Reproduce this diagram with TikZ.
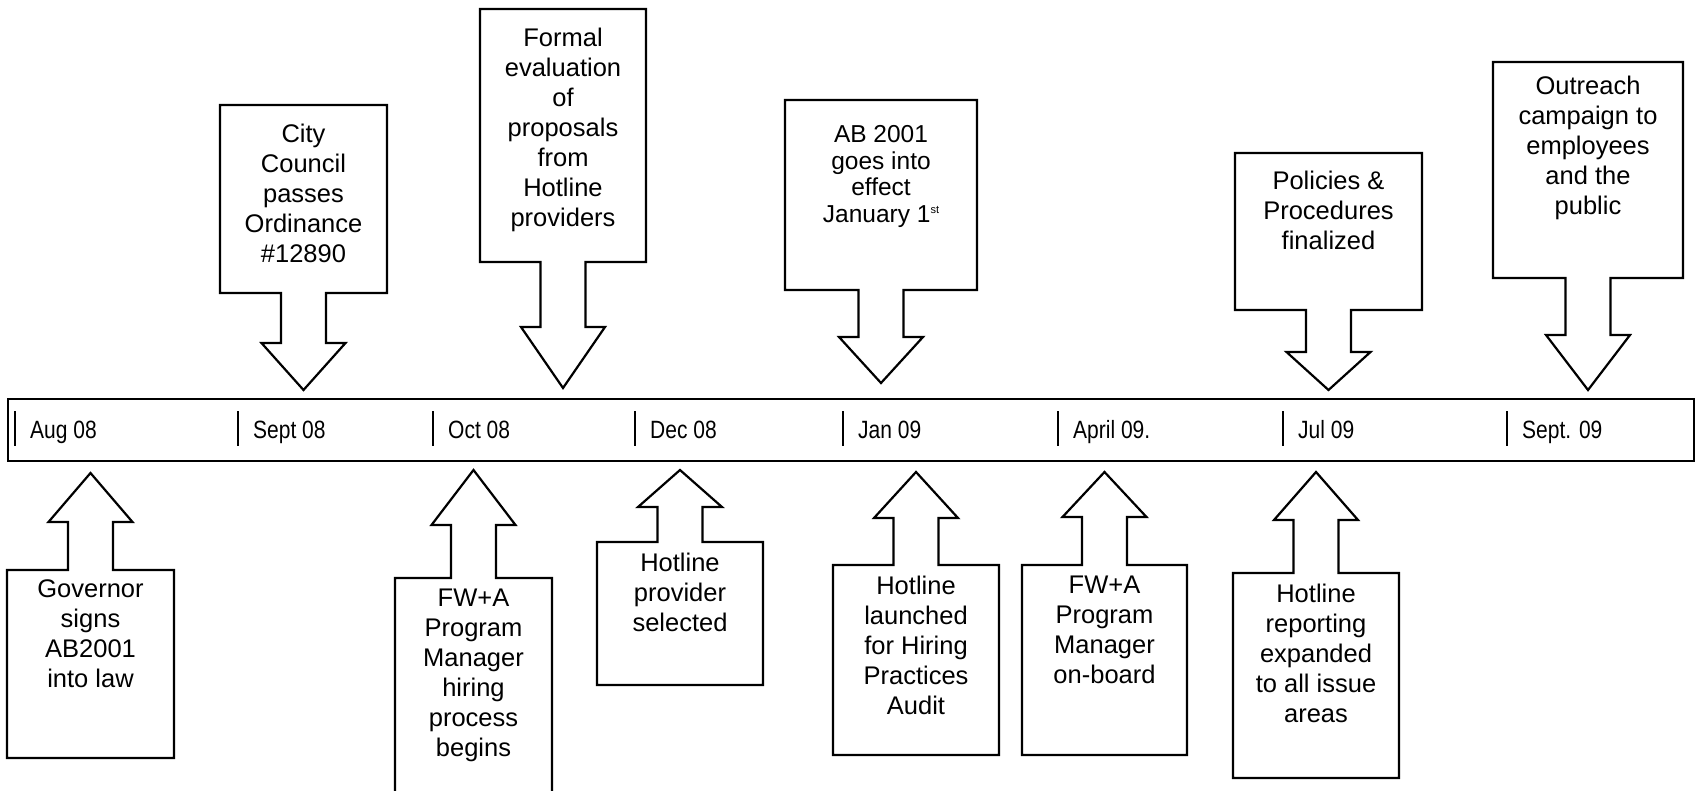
\documentclass[tikz,border=0pt]{standalone}
\usepackage{fontspec}
\setmainfont{Liberation Sans}
\newfontfamily\narrowf[FakeStretch=0.84]{Liberation Sans}
\newcommand{\calldown}[9]{%
  \pgfmathsetmacro\cxv{(#2+#3)/2}%
  \pgfmathsetmacro\sxl{\cxv-22.5}\pgfmathsetmacro\sxr{\cxv+22.5}%
  \pgfmathsetmacro\hxl{\cxv-42}\pgfmathsetmacro\hxr{\cxv+42}%
  \draw[callout] (#2,#4) -- (#3,#4) -- (#3,#5) -- (\sxr,#5) -- (\sxr,#6) -- (\hxr,#6)
     -- (\cxv,#7) -- (\hxl,#6) -- (\sxl,#6) -- (\sxl,#5) -- (#2,#5) -- cycle;
  \node[evt] (#1) at (\cxv,#8-9.5) {#9};
}
\newcommand{\callup}[9]{%
  \pgfmathsetmacro\cxv{(#2+#3)/2}%
  \pgfmathsetmacro\sxl{\cxv-22.5}\pgfmathsetmacro\sxr{\cxv+22.5}%
  \pgfmathsetmacro\hxl{\cxv-42}\pgfmathsetmacro\hxr{\cxv+42}%
  \draw[callout] (#2,#5) -- (#2,#4) -- (\sxl,#4) -- (\sxl,#6) -- (\hxl,#6) -- (\cxv,#7)
     -- (\hxr,#6) -- (\sxr,#6) -- (\sxr,#4) -- (#3,#4) -- (#3,#5) -- cycle;
  \node[evt] (#1) at (\cxv,#8-9.5) {#9};
}
\begin{document}
\begin{tikzpicture}[x=1pt,y=-1pt,
  callout/.style={draw=black, line width=2.2pt, fill=white, line join=miter},
  evt/.style={font=\fontsize{25.5}{30}\selectfont, align=center, inner sep=0pt, anchor=north},
  datelbl/.style={font=\narrowf\fontsize{25}{30}\selectfont, inner sep=0pt, anchor=base west},
  tickmark/.style={line width=2pt}]
\useasboundingbox[fill=white] (0,0) rectangle (1700,790);

% timeline bar
\node[draw, line width=2.4pt, minimum width=1686pt, minimum height=62pt, inner sep=0pt] (bar) at (851,430) {};
\foreach \t/\lab/\nm in {15/Aug 08/aug, 238/Sept 08/sep, 433/Oct 08/oct, 635/Dec 08/dec,
    843/Jan 09/jan, 1058/April 09./apr, 1283/Jul 09/jul, 1507/Sept. 09/sepn}{
  \draw[tickmark] (\t,411) -- (\t,446);
  \node[datelbl] (d\nm) at (\t+15,438) {\lab};
}

% top callouts
\calldown{city}{220}{387}{105}{293}{343}{390}{133}{City\\Council\\passes\\Ordinance\\\#12890}
\calldown{formal}{480}{646}{9}{262}{327}{388}{37}{Formal\\evaluation\\of\\proposals\\from\\Hotline\\providers}
\begin{scope}[evt/.append style={font=\fontsize{24.5}{26.5}\selectfont}]
\calldown{ab}{785}{977}{100}{290}{337}{383}{135}{AB 2001\\goes into\\effect\\January 1\raisebox{9pt}{\fontsize{11}{11}\selectfont st}}
\end{scope}
\calldown{pol}{1235}{1422}{153}{310}{352}{390}{180}{Policies \&\\Procedures\\finalized}
\calldown{outr}{1493}{1683}{62}{278}{335}{390}{85}{Outreach\\campaign to\\employees\\and the\\public}

% bottom callouts
\callup{gov}{7}{174}{570}{758}{522}{473}{589}{Governor\\signs\\AB2001\\into law}
\callup{fwa}{395}{552}{578}{800}{525}{470}{598}{FW+A\\Program\\Manager\\hiring\\process\\begins}
\callup{prov}{597}{763}{542}{685}{507}{470}{562}{Hotline\\provider\\selected}
\callup{launch}{833}{999}{565}{755}{518}{472}{585}{Hotline\\launched\\for Hiring\\Practices\\Audit}
\callup{onb}{1022}{1187}{565}{755}{517}{472}{585}{FW+A\\Program\\Manager\\on-board}
\callup{rep}{1233}{1399}{573}{778}{520}{472}{593}{Hotline\\reporting\\expanded\\to all issue\\areas}
\end{tikzpicture}
\end{document}
